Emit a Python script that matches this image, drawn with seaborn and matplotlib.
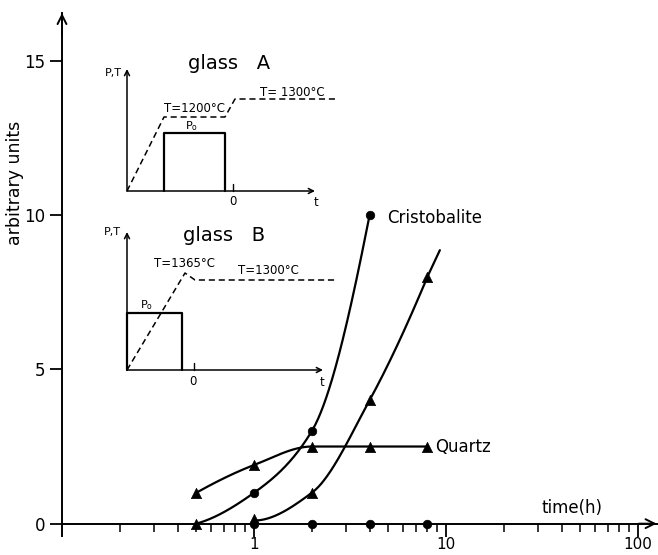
import numpy as np
import pandas as pd
import matplotlib
matplotlib.use("Agg")
import matplotlib.pyplot as plt
from matplotlib.ticker import FixedLocator, LogLocator, NullFormatter
import seaborn as sns

# ---------------- data ----------------
cristA_t = [0.5, 1, 2, 4]
cristA_v = [0.0, 1.0, 3.0, 10.0]
cristB_t = [1, 2, 4, 8]
cristB_v = [0.1, 1.0, 4.0, 8.0]
quartz_t = [0.5, 1, 2, 4, 8]
quartz_v = [1.0, 1.9, 2.5, 2.5, 2.5]

circle_t = [1, 2, 4, 1, 2, 4, 8]
circle_v = [1.0, 3.0, 10.0, 0.0, 0.0, 0.0, 0.0]
triangle_t = [0.5, 1, 2, 4, 8, 0.5, 1, 2, 4, 8]
triangle_v = [0.0, 0.15, 1.0, 4.0, 8.0, 1.0, 1.9, 2.5, 2.5, 2.5]

ytick_vals = [0, 5, 10, 15]
xtick_vals = [1, 10, 100]
xtick_labels = ["1", "10", "100"]

# schematic insets (arbitrary schematic units)
A_axis_t = [-10.6, 8.2]
A_T_t = [-10.6, -6.9, -0.8, 0.2, 10.4]
A_T_v = [0.0, 7.4, 7.4, 9.2, 9.2]
A_P_t = [-6.9, -6.9, -0.8, -0.8]
A_P_v = [0.0, 5.8, 5.8, 0.0]
A_top = 12.2

B_axis_t = [-6.7, 12.9]
B_T_t = [-6.7, -0.9, 0.1, 14.1]
B_T_v = [0.0, 9.7, 9.0, 9.0]
B_P_t = [-6.7, -6.7, -1.2, -1.2]
B_P_v = [0.0, 5.7, 5.7, 0.0]
B_top = 13.8


def smooth_curve(tx, vy, n=200, extend=0.0):
    """Shape-preserving (PCHIP) smooth line through the points, in log-x space."""
    lx = np.log10(np.asarray(tx, float))
    y = np.asarray(vy, float)
    h = np.diff(lx)
    d = np.diff(y) / h
    k = len(y)
    m = np.zeros(k)
    for i in range(1, k - 1):
        if d[i - 1] * d[i] > 0:
            w1 = 2 * h[i] + h[i - 1]
            w2 = h[i] + 2 * h[i - 1]
            m[i] = (w1 + w2) / (w1 / d[i - 1] + w2 / d[i])
    m0 = ((2 * h[0] + h[1]) * d[0] - h[0] * d[1]) / (h[0] + h[1])
    if np.sign(m0) != np.sign(d[0]):
        m0 = 0
    m[0] = m0
    me = ((2 * h[-1] + h[-2]) * d[-1] - h[-1] * d[-2]) / (h[-1] + h[-2])
    if np.sign(me) != np.sign(d[-1]):
        me = 0
    m[-1] = me
    xs = np.linspace(lx[0], lx[-1], n)
    idx = np.clip(np.searchsorted(lx, xs) - 1, 0, k - 2)
    t = (xs - lx[idx]) / h[idx]
    h00 = 2 * t**3 - 3 * t**2 + 1
    h10 = t**3 - 2 * t**2 + t
    h01 = -2 * t**3 + 3 * t**2
    h11 = t**3 - t**2
    ys = h00 * y[idx] + h10 * h[idx] * m[idx] + h01 * y[idx + 1] + h11 * h[idx] * m[idx + 1]
    if extend > 0:
        ex = np.linspace(lx[-1], lx[-1] + extend, 10)[1:]
        xs = np.concatenate([xs, ex])
        ys = np.concatenate([ys, y[-1] + d[-1] * (ex - lx[-1])])
    return pd.DataFrame({"t": 10**xs, "v": ys})


# ---------------- style ----------------
sns.set_theme(style="white")
plt.rcParams["font.family"] = ["DejaVu Sans"]
plt.rcParams["text.color"] = "black"
plt.rcParams["axes.edgecolor"] = "black"
plt.rcParams["xtick.color"] = "black"
plt.rcParams["ytick.color"] = "black"
plt.rcParams["axes.labelcolor"] = "black"

W, H = 658, 555
fig = plt.figure(figsize=(W / 100, H / 100), dpi=100)
fig.patch.set_facecolor("white")

ax = fig.add_axes([62 / W, 1 - 536 / H, 594.6 / W, 523 / H])
ax.set_xscale("log")
ax.set_xlim(0.1, 125)
ax.set_ylim(-0.4, 16.55)
ax.set_facecolor("none")

for sp in ["top", "right"]:
    ax.spines[sp].set_visible(False)
ax.spines["bottom"].set_position(("data", 0))
ax.spines["left"].set_linewidth(1.4)
ax.spines["bottom"].set_linewidth(1.4)

# curves
lw = 1.6
sns.lineplot(data=smooth_curve(cristA_t, cristA_v), x="t", y="v", sort=False,
             estimator=None, color="black", lw=lw, ax=ax)
sns.lineplot(data=smooth_curve(cristB_t, cristB_v, extend=0.065), x="t", y="v",
             sort=False, estimator=None, color="black", lw=lw, ax=ax)
sns.lineplot(data=smooth_curve(quartz_t, quartz_v), x="t", y="v", sort=False,
             estimator=None, color="black", lw=lw, ax=ax)

# markers
sns.scatterplot(x=circle_t, y=circle_v, marker="o", s=38, color="black",
                edgecolor="black", linewidth=0.5, ax=ax, clip_on=False, zorder=5)
sns.scatterplot(x=triangle_t, y=triangle_v, marker="^", s=55, color="black",
                edgecolor="black", linewidth=0.5, ax=ax, clip_on=False, zorder=5)

# ticks
ax.yaxis.set_major_locator(FixedLocator(ytick_vals))
ax.set_yticklabels([str(v) for v in ytick_vals])
ax.xaxis.set_major_locator(FixedLocator(xtick_vals))
ax.set_xticklabels(xtick_labels)
ax.xaxis.set_minor_locator(LogLocator(base=10, subs=np.arange(2, 10)))
ax.xaxis.set_minor_formatter(NullFormatter())
ax.tick_params(axis="y", which="major", direction="out", length=9, width=1.3,
               labelsize=12, pad=3, left=True)
ax.tick_params(axis="x", which="major", direction="out", length=9, width=1.3,
               labelsize=11, pad=0.5, bottom=True)
ax.tick_params(axis="x", which="minor", direction="out", length=6, width=1.1,
               bottom=True)
ax.set_xlabel("")
ax.set_ylabel("")

# axis arrows
ax.annotate("", xy=(1.0, 0), xytext=(0.97, 0), xycoords=("axes fraction", "data"),
            textcoords=("axes fraction", "data"),
            arrowprops=dict(arrowstyle="->", lw=1.4, color="black",
                            mutation_scale=16, shrinkA=0, shrinkB=0))
ax.annotate("", xy=(0.1, 16.55), xytext=(0.1, 15.8),
            arrowprops=dict(arrowstyle="->", lw=1.4, color="black",
                            mutation_scale=16, shrinkA=0, shrinkB=0),
            annotation_clip=False)

# labels
fig.text(15 / W, 1 - 183 / H, "arbitrary units", rotation=90, ha="center",
         va="center", fontsize=12.5)
ax.text(45.3, 0.52, "time(h)", ha="center", va="center", fontsize=12)
ax.text(4.93, 9.9, "Cristobalite", ha="left", va="center", fontsize=12)
ax.text(8.77, 2.5, "Quartz", ha="left", va="center", fontsize=12)


def schematic(rect, xlim, ylim, axis_t, top, T_t, T_v, P_t, P_v, texts):
    ia = fig.add_axes(rect)
    ia.set_xlim(*xlim)
    ia.set_ylim(*ylim)
    ia.axis("off")
    ia.patch.set_alpha(0)
    arr = dict(arrowstyle="->", lw=1.1, color="black", mutation_scale=9,
               shrinkA=0, shrinkB=0)
    ia.annotate("", xy=(axis_t[1], 0), xytext=(axis_t[0], 0), arrowprops=arr)
    ia.annotate("", xy=(axis_t[0], top), xytext=(axis_t[0], 0), arrowprops=arr)
    ia.plot([0, 0], [0, 0.7], color="black", lw=1.0)
    ia.plot(T_t, T_v, color="black", lw=1.1, ls=(0, (4, 2.5)))
    ia.plot(P_t, P_v, color="black", lw=1.6)
    for (x, y, s, fs, ha, va) in texts:
        ia.text(x, y, s, fontsize=fs, ha=ha, va=va)
    return ia


schematic([97 / W, 1 - 210 / H, 250 / W, 155 / H], (-13.6, 11.4), (-1.9, 13.6),
          A_axis_t, A_top, A_T_t, A_T_v, A_P_t, A_P_v,
          [(-0.4, 12.8, "glass   A", 14, "center", "center"),
           (-12.0, 11.8, "P,T", 8, "center", "center"),
           (-3.9, 8.3, "T=1200°C", 8.5, "center", "center"),
           (5.9, 9.8, "T= 1300°C", 8.5, "center", "center"),
           (-4.1, 6.5, r"P$_\mathrm{o}$", 8, "center", "center"),
           (0.0, -0.4, "0", 8.5, "center", "top"),
           (8.3, -0.5, "t", 8.5, "center", "top")])

schematic([97 / W, 1 - 390 / H, 250 / W, 165 / H], (-9.7, 15.3), (-2.0, 14.5),
          B_axis_t, B_top, B_T_t, B_T_v, B_P_t, B_P_v,
          [(3.0, 13.5, "glass   B", 14, "center", "center"),
           (-8.2, 13.8, "P,T", 8, "center", "center"),
           (-1.0, 10.7, "T=1365°C", 8.5, "center", "center"),
           (7.4, 10.0, "T=1300°C", 8.5, "center", "center"),
           (-4.7, 6.5, r"P$_\mathrm{o}$", 8, "center", "center"),
           (-0.1, -0.5, "0", 8.5, "center", "top"),
           (12.8, -0.6, "t", 8.5, "center", "top")])

fig.savefig("out.png", dpi=100, facecolor="white")
